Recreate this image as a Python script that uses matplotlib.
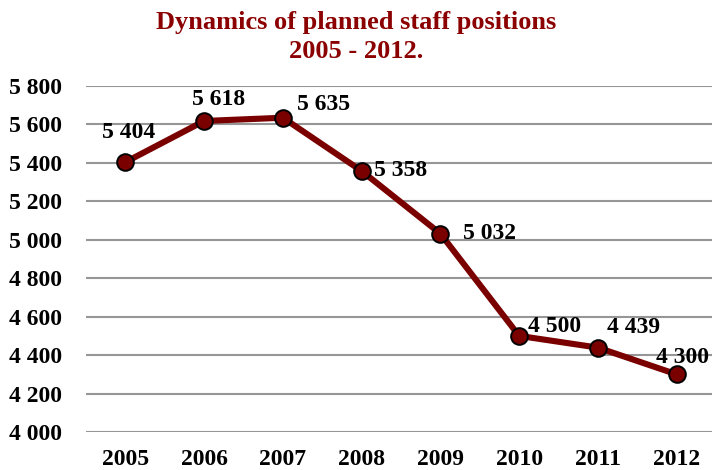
import matplotlib.pyplot as plt
from matplotlib.ticker import FuncFormatter

plt.rcParams['font.family'] = ['Liberation Serif', 'DejaVu Serif']

years = ['2005', '2006', '2007', '2008', '2009', '2010', '2011', '2012']
staff = [5404, 5618, 5635, 5358, 5032, 4500, 4439, 4300]
yticks = [4000, 4200, 4400, 4600, 4800, 5000, 5200, 5400, 5600, 5800]

# label offsets in pixels (dx, dy up)
offsets = [(3, 30), (14, 21), (41, 13), (39, 0), (49, 0), (35, 9), (36, 20), (6, 17)]

def fmt(v):
    return f"{int(v):,}".replace(",", " ")

fig = plt.figure(figsize=(7.12, 4.70), dpi=100)
ax = fig.add_axes([86 / 712, 1 - 432 / 470, 630 / 712, (432 - 86) / 470])

x = range(len(years))
ax.plot(x, staff, color='#7a0000', lw=4.4, marker='o', markersize=12,
        markerfacecolor='#7a0000', markeredgecolor='black', markeredgewidth=1.4,
        zorder=3, clip_on=False)

for i, v in enumerate(staff):
    dx, dy = offsets[i]
    ax.annotate(fmt(v), (i, v), xytext=(dx * 0.72, dy * 0.72), textcoords='offset points',
                ha='center', va='center', fontsize=17, fontweight='bold', color='black',
                annotation_clip=False)

ax.set_ylim(4000, 5800)
ax.set_xlim(-0.5, 7.5)
ax.set_yticks(yticks)
ax.yaxis.set_major_formatter(FuncFormatter(lambda v, p: fmt(v)))
ax.set_xticks(list(x))
ax.set_xticklabels(years)
ax.grid(axis='y', color='#969696', lw=1.5)
ax.set_axisbelow(True)
for s in ax.spines.values():
    s.set_visible(False)
ax.tick_params(length=0, labelsize=17)
ax.tick_params(axis='y', pad=17)
ax.tick_params(axis='x', pad=12)
for lab in ax.get_xticklabels() + ax.get_yticklabels():
    lab.set_fontweight('bold')

fig.text(0.5, 1 - 22 / 470, 'Dynamics of planned staff positions', ha='center', va='center',
         fontsize=19, fontweight='bold', color='#8b0000')
fig.text(0.5, 1 - 52 / 470, '2005 - 2012.', ha='center', va='center',
         fontsize=19, fontweight='bold', color='#8b0000')

fig.savefig('out.png', dpi=100)
